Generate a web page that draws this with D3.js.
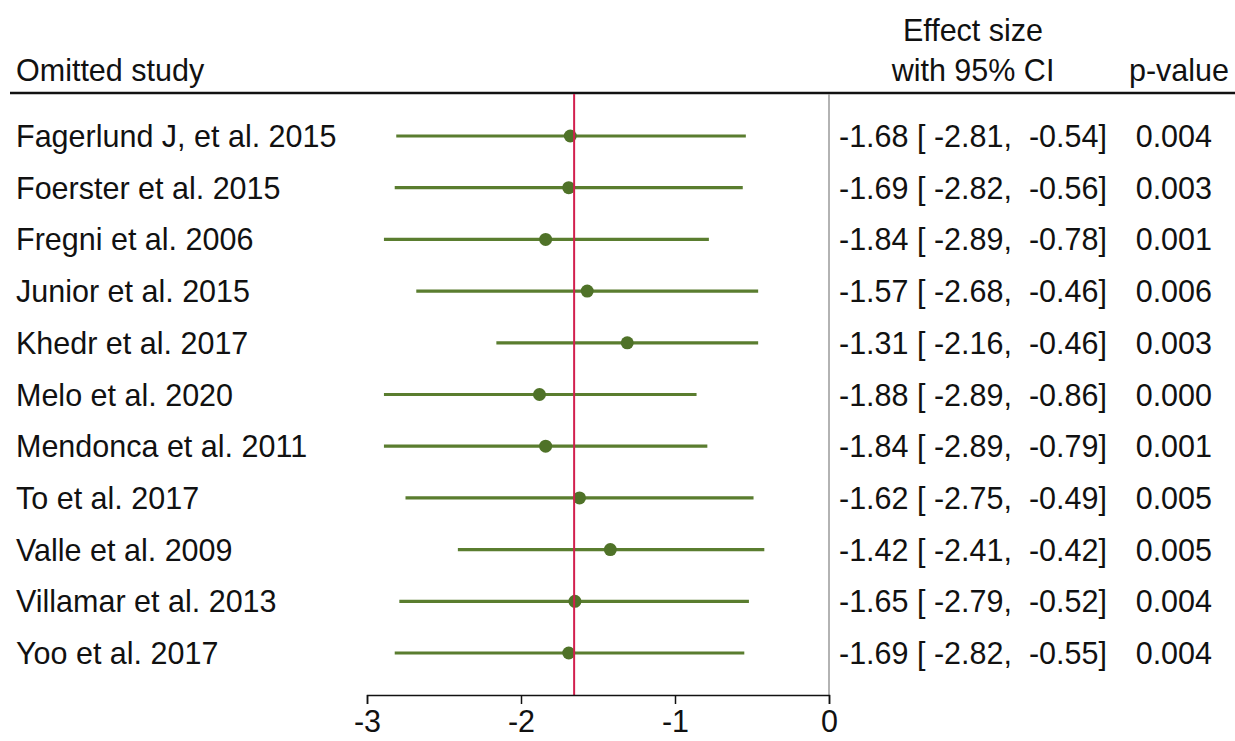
<!DOCTYPE html>
<html>
<head>
<meta charset="utf-8">
<script src="https://cdn.jsdelivr.net/npm/d3@7"></script>
<style>
  html, body { margin: 0; padding: 0; background: #fff; }
  svg { display: block; }
  text { font-family: "Liberation Sans", Arial, sans-serif; fill: #111; }
</style>
</head>
<body>
<svg id="chart" width="1235" height="741"></svg>
<script>
const studies = [
  "Fagerlund J, et al. 2015",
  "Foerster et al. 2015",
  "Fregni et al. 2006",
  "Junior et al. 2015",
  "Khedr et al. 2017",
  "Melo et al. 2020",
  "Mendonca et al. 2011",
  "To et al. 2017",
  "Valle et al. 2009",
  "Villamar et al. 2013",
  "Yoo et al. 2017"
];
const effect = [-1.68, -1.69, -1.84, -1.57, -1.31, -1.88, -1.84, -1.62, -1.42, -1.65, -1.69];
const lower  = [-2.81, -2.82, -2.89, -2.68, -2.16, -2.89, -2.89, -2.75, -2.41, -2.79, -2.82];
const upper  = [-0.54, -0.56, -0.78, -0.46, -0.46, -0.86, -0.79, -0.49, -0.42, -0.52, -0.55];
const pvalues = ["0.004", "0.003", "0.001", "0.006", "0.003", "0.000", "0.001", "0.005", "0.005", "0.004", "0.004"];
const overall = -1.655;
const xTicks = [-3, -2, -1, 0];

const svg = d3.select("#chart");
const fs = 30.5;

const x = d3.scaleLinear().domain([-3, 0]).range([367, 829]);
const y = d3.scalePoint().domain(d3.range(studies.length)).range([136, 653]);

const plotTop = 94, plotBottom = 695;

// hyphen-minus formatting (as in the reference)
const f2 = v => d3.format(".2f")(v).replace("\u2212", "-");
const fi = v => d3.format("d")(v).replace("\u2212", "-");

// header
svg.append("text").attr("x", 16).attr("y", 81).attr("font-size", fs).text("Omitted study");
svg.append("text").attr("x", 973).attr("y", 41).attr("font-size", fs).attr("text-anchor", "middle").text("Effect size");
svg.append("text").attr("x", 973).attr("y", 81).attr("font-size", fs).attr("text-anchor", "middle").text("with 95% CI");
svg.append("text").attr("x", 1229).attr("y", 81).attr("font-size", fs).attr("text-anchor", "end").text("p-value");
svg.append("line").attr("x1", 10).attr("x2", 1235).attr("y1", 93).attr("y2", 93)
  .attr("stroke", "#111").attr("stroke-width", 2.5);

// zero reference (gray)
svg.append("line").attr("x1", x(0)).attr("x2", x(0)).attr("y1", plotTop).attr("y2", plotBottom)
  .attr("stroke", "#9a9a9a").attr("stroke-width", 1.5);

// CI lines
const g = svg.append("g");
g.selectAll("line.ci").data(studies).join("line")
  .attr("class", "ci")
  .attr("x1", (d, i) => x(lower[i])).attr("x2", (d, i) => x(upper[i]))
  .attr("y1", (d, i) => y(i)).attr("y2", (d, i) => y(i))
  .attr("stroke", "#5a7d2f").attr("stroke-width", 3.2);

// overall line (red)
svg.append("line").attr("x1", x(overall)).attr("x2", x(overall)).attr("y1", plotTop).attr("y2", plotBottom)
  .attr("stroke", "#d21f4e").attr("stroke-width", 2);

// points
g.selectAll("circle").data(studies).join("circle")
  .attr("cx", (d, i) => x(effect[i])).attr("cy", (d, i) => y(i)).attr("r", 6.5)
  .attr("fill", "#4f7228");

// study labels
svg.selectAll("text.study").data(studies).join("text")
  .attr("class", "study").attr("x", 16).attr("y", (d, i) => y(i) + 11)
  .attr("font-size", fs).text(d => d);

// effect text
svg.selectAll("text.es").data(studies).join("text")
  .attr("class", "es").attr("x", 839).attr("y", (d, i) => y(i) + 11)
  .attr("font-size", fs).style("white-space", "pre").attr("xml:space", "preserve")
  .text((d, i) => `${f2(effect[i])} [ ${f2(lower[i])},  ${f2(upper[i])}]`);

// p-values
svg.selectAll("text.pv").data(pvalues).join("text")
  .attr("class", "pv").attr("x", 1212).attr("y", (d, i) => y(i) + 11)
  .attr("font-size", fs).attr("text-anchor", "end").text(d => d);

// axis
const axis = d3.axisBottom(x).tickValues(xTicks).tickFormat(fi).tickSize(9).tickPadding(6);
const ax = svg.append("g").attr("transform", `translate(0,${plotBottom})`).call(axis);
ax.select(".domain").attr("stroke", "#111").attr("stroke-width", 1.5);
ax.selectAll(".tick line").attr("stroke", "#111").attr("stroke-width", 1.5);
ax.selectAll(".tick text").attr("font-size", fs).attr("font-family", "Liberation Sans, Arial, sans-serif").attr("fill", "#111")
  .attr("dy", null).attr("y", 37);
</script>
</body>
</html>
